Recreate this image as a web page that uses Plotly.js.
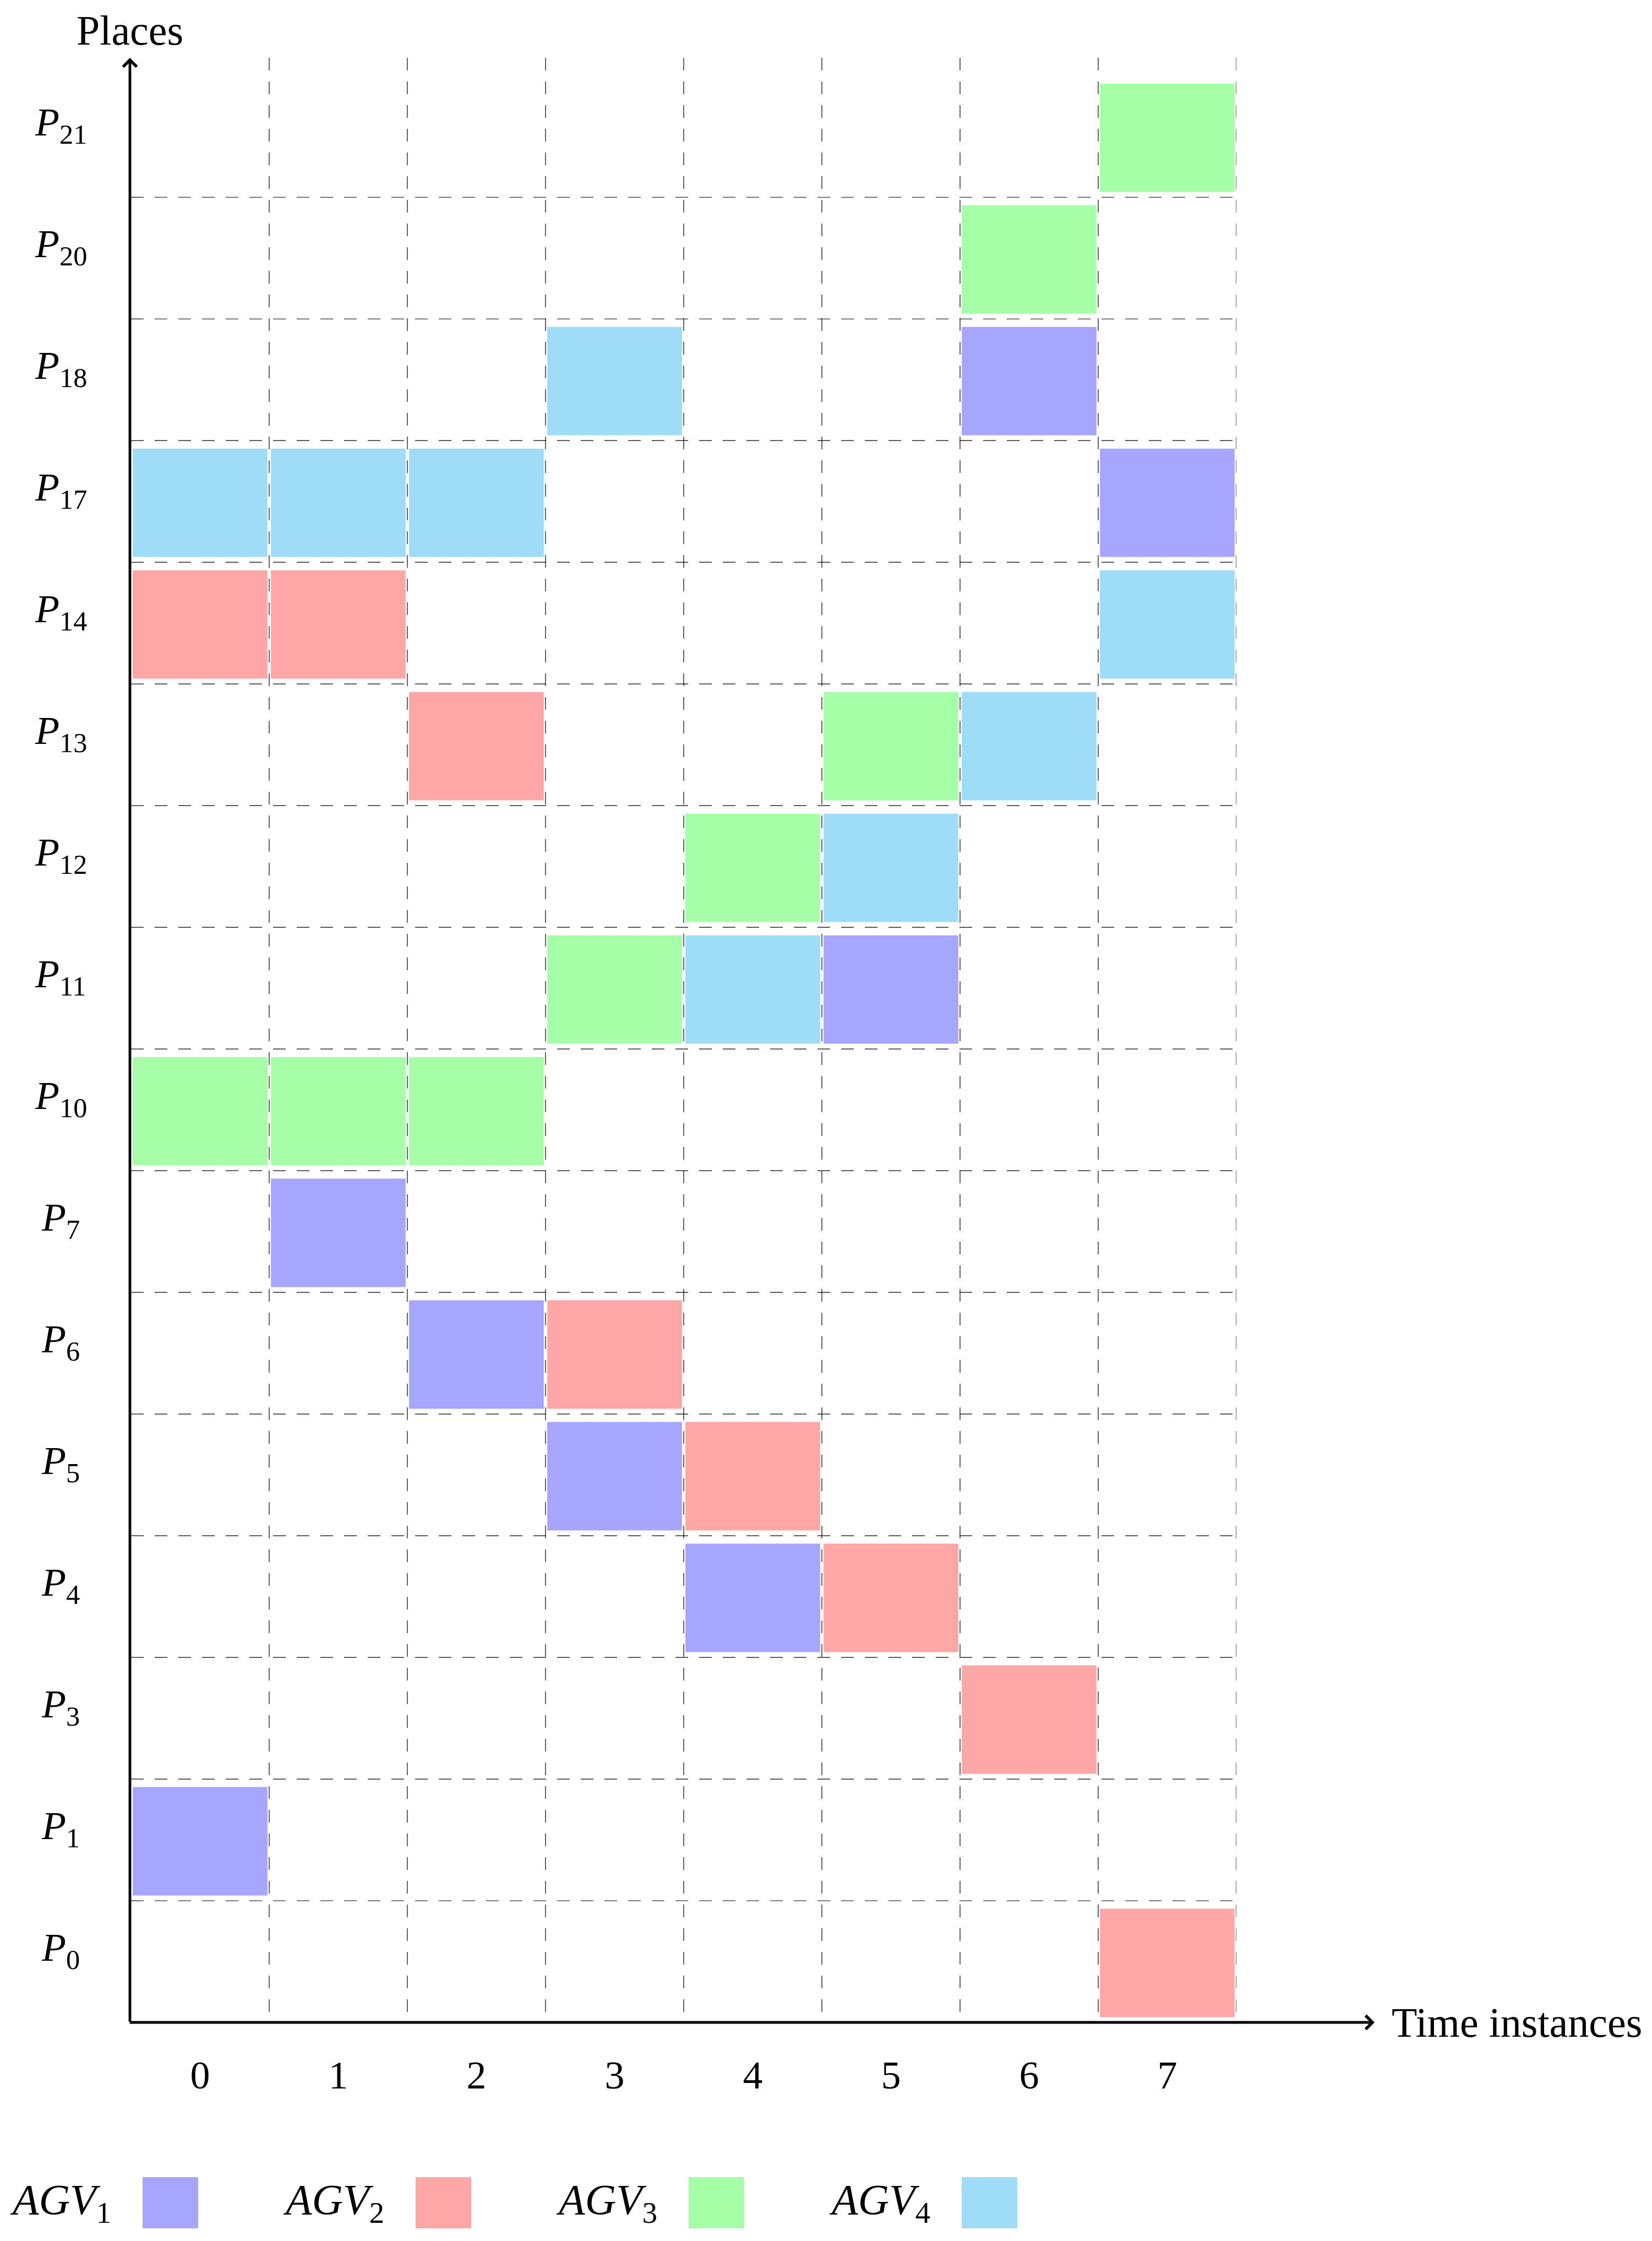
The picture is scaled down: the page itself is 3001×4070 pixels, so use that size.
<!DOCTYPE html>
<html><head><meta charset="utf-8">
<script src="https://cdn.plot.ly/plotly-3.0.1.min.js"></script>
<style>html,body{margin:0;padding:0;background:#fff;}</style>
</head><body><div id="chart" style="width:3001px;height:4070px;"></div>
<script>
// ---- data ----
const places = ["P0","P1","P3","P4","P5","P6","P7","P10","P11","P12","P13","P14","P17","P18","P20","P21"];
const timeTicks = [0,1,2,3,4,5,6,7];
const timeLabels = ["0","1","2","3","4","5","6","7"];
const agvNames = ["AGV1","AGV2","AGV3","AGV4"];
const agv1Times = [0,1,2,3,4,5,6,7];
const agv1Places = ["P1","P7","P6","P5","P4","P11","P18","P17"];
const agv2Times = [0,1,2,3,4,5,6,7];
const agv2Places = ["P14","P14","P13","P6","P5","P4","P3","P0"];
const agv3Times = [0,1,2,3,4,5,6,7];
const agv3Places = ["P10","P10","P10","P11","P12","P13","P20","P21"];
const agv4Times = [0,1,2,3,4,5,6,7];
const agv4Places = ["P17","P17","P17","P18","P11","P12","P13","P14"];
const agvColors = ["#a6a6ff","#ffa6a6","#a6ffa6","#9edcf7"];

// ---- layout constants ----
const W = 3001, H = 4070;
const L = 238, R = 755, T = 105, B = 397;
const plotW = W - L - R, plotH = H - T - B;
const FONT = "Liberation Serif, Times New Roman, serif";
const FS = 72;
const yTop = places.length - 0.5 + 0.146;
const xMax = timeTicks.length - 0.5;
const px2x = px => (px - L) / plotW;
const px2y = py => (H - B - py) / plotH;

function mathLabel(name) {
  const m = name.match(/^([A-Za-z]+)(\d+)$/);
  return "<i>" + m[1] + "</i><sub>" + m[2] + "</sub>";
}

const series = [
  [agv1Times, agv1Places], [agv2Times, agv2Places],
  [agv3Times, agv3Places], [agv4Times, agv4Places]
];
const traces = series.map((s, k) => ({
  type: "bar",
  name: agvNames[k],
  x: s[0],
  base: s[1].map(p => places.indexOf(p) - 0.4566),
  y: s[1].map(() => 0.891),
  width: 0.975,
  marker: {color: agvColors[k], line: {width: 0}},
  showlegend: false,
  hoverinfo: "skip"
}));

const gridLine = {color: "#000", width: 1.2, dash: "23px,20px"};
const shapes = [];
for (let i = 1; i < places.length; i++) {
  shapes.push({type: "line", xref: "x", yref: "y", x0: -0.5, x1: xMax, y0: i - 0.5, y1: i - 0.5, line: gridLine, layer: "below"});
}
for (let j = 0; j < timeTicks.length; j++) {
  shapes.push({type: "line", xref: "x", yref: "y", x0: timeTicks[j] + 0.5, x1: timeTicks[j] + 0.5, y0: yTop, y1: -0.5, line: gridLine, layer: "below"});
}
// legend swatches
agvNames.forEach((n, k) => {
  shapes.push({type: "rect", xref: "paper", yref: "paper",
    x0: px2x(259 + k * 496), x1: px2x(360 + k * 496),
    y0: px2y(4047), y1: px2y(3954),
    fillcolor: agvColors[k], line: {width: 0}});
});

const annotations = [];
// axis arrows
annotations.push({xref: "paper", yref: "paper", x: px2x(236), y: 1, ax: 0, ay: plotH, text: "",
  showarrow: true, arrowhead: 4, arrowsize: 1, arrowwidth: 4.8, arrowcolor: "#000", standoff: 0, startstandoff: 0});
annotations.push({xref: "paper", yref: "paper", x: px2x(2497), y: 0, ax: -(2497 - 234), ay: 0, text: "",
  showarrow: true, arrowhead: 4, arrowsize: 1, arrowwidth: 4.8, arrowcolor: "#000", standoff: 0, startstandoff: 0});
// axis titles
annotations.push({xref: "paper", yref: "paper", x: px2x(236), y: 1, yshift: 6, xanchor: "center", yanchor: "bottom",
  text: "Places", showarrow: false, font: {family: FONT, size: 76, color: "#000"}});
annotations.push({xref: "paper", yref: "paper", x: px2x(2526), y: 0, xanchor: "left", yanchor: "middle",
  text: "Time instances", showarrow: false, font: {family: FONT, size: 76, color: "#000"}});
// place labels
places.forEach((p, i) => {
  annotations.push({xref: "paper", yref: "y", x: px2x(110), y: i, yshift: 21, xanchor: "center", yanchor: "middle",
    text: mathLabel(p), showarrow: false, font: {family: FONT, size: FS, color: "#000"}});
});
// legend labels
agvNames.forEach((n, k) => {
  annotations.push({xref: "paper", yref: "paper", x: px2x(16 + k * 496), y: px2y(4000), xanchor: "left", yanchor: "middle",
    text: mathLabel(n), showarrow: false, font: {family: FONT, size: 78, color: "#000"}});
});

const layout = {
  width: W, height: H,
  margin: {l: L, r: R, t: T, b: B, pad: 0},
  paper_bgcolor: "#fff", plot_bgcolor: "#fff",
  barmode: "overlay",
  showlegend: false,
  xaxis: {range: [-0.5, xMax], tickvals: timeTicks, ticktext: timeLabels, ticks: "",
    showgrid: false, zeroline: false, showline: false, ticklabelstandoff: 47,
    tickfont: {family: FONT, size: FS, color: "#000"}},
  yaxis: {range: [-0.5, yTop], showticklabels: false, showgrid: false, zeroline: false, showline: false, ticks: ""},
  shapes: shapes,
  annotations: annotations
};

Plotly.newPlot("chart", traces, layout, {staticPlot: true, displayModeBar: false});
</script>
</body></html>
